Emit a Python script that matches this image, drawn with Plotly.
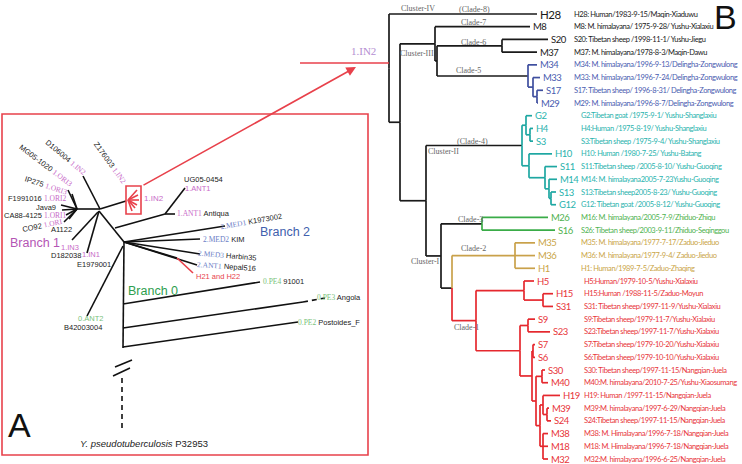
import plotly.graph_objects as go

W, H = 742, 464

# ================= Panel B data =================
leaf_names = ["H28", "M8", "S20", "M37", "M34", "M33", "S17", "M29", "G2", "H4", "S3", "H10",
              "S11", "M14", "S13", "G12", "M26", "S16", "M35", "M36", "H1", "H5", "H15", "S31",
              "S9", "S23", "S7", "S6", "S30", "M40", "H19", "M39", "S24", "M38", "M18", "M32"]
leaf_tips = [537, 530, 548, 537, 537, 540, 543, 538, 532, 533, 533, 552,
             557, 557, 556, 556, 548, 555, 535, 535, 535, 534, 553, 553,
             535, 550, 535, 535, 545, 548, 560, 549, 551, 548, 548, 548]
leaf_desc = [
    "H28: Human/1983-9-15/Maqin-Xiaduwu",
    "M8: M. himalayana/ 1975-9-28/ Yushu-Xialaxiu",
    "S20: Tibetan sheep /1998-11-1/ Yushu-Jiegu",
    "M37: M. himalayana/1978-8-3/Maqin-Dawu",
    "M34: M. himalayana/1996-9-13/Delingha-Zongwulong",
    "M33: M. himalayana/1996-7-24/Delingha-Zongwulong",
    "S17: Tibetan sheep/ 1996-8-31/ Delingha-Zongwulong",
    "M29: M. himalayana/1996-8-7/Delingha-Zongwulong",
    "G2:Tibetan goat /1975-9-1/ Yushu-Shanglaxiu",
    "H4:Human /1975-8-19/ Yushu-Shanglaxiu",
    "S3:Tibetan sheep /1975-9-4/ Yushu-Shanglaxiu",
    "H10: Human /1980-7-25/ Yushu-Batang",
    "S11:Tibetan sheep /2005-8-10/ Yushu-Guoqing",
    "M14: M. himalayana2005-7-23Yushu-Guoqing",
    "S13:Tibetan sheep2005-8-23/ Yushu-Guoqing",
    "G12: Tibetan goat /2005-8-12/ Yushu-Guoqing",
    "M16: M. himalayana/2005-7-9/Zhiduo-Zhiqu",
    "S26: Tibetan sheep/2003-9-11/Zhiduo-Seqinggou",
    "M35: M. himalayana/1977-7-17/Zaduo-Jieduo",
    "M36: M. himalayana/1977-9-4/ Zaduo-Jieduo",
    "H1: Human/1989-7-5/Zaduo-Zhaqing",
    "H5:Human/1979-10-5/Yushu-Xialaxiu",
    "H15:Human /1988-11-5/Zaduo-Moyun",
    "S31: Tibetan sheep/1997-11-9/Yushu-Xialaxiu",
    "S9:Tibetan sheep/1979-11-7/Yushu-Xialaxiu",
    "S23:Tibetan sheep/1997-11-7/Yushu-Xialaxiu",
    "S7:Tibetan sheep/1979-10-20/Yushu-Xialaxiu",
    "S6:Tibetan sheep/1979-10-10/Yushu-Xialaxiu",
    "S30: Tibetan sheep/1997-11-15/Nangqian-Juela",
    "M40:M. himalayana/2010-7-25/Yushu-Xiaosumang",
    "H19: Human /1997-11-15/Nangqian-Juela",
    "M39:M. himalayana/1997-6-29/Nangqian-Juela",
    "S24:Tibetan sheep/1997-11-15/Nangqian-Juela",
    "M38: M. Himalayana/1996-7-18/Nangqian-Juela",
    "M18: M. Himalayana/1996-7-18/Nangqian-Juela",
    "M32:M. himalayana/1996-6-25/Nangqian-Juela",
]

line_colors = {"k": "#1a1a1a", "blue": "#3f4f9f", "teal": "#1ea7a2", "green": "#3aac48",
               "gold": "#c9a14a", "red": "#e5282e"}
text_colors = {"k": "#1a1a1a", "blue": "#4a5cb0", "teal": "#2ab3ae", "green": "#4fb24f",
               "gold": "#caa548", "red": "#e8353a"}
# style: start of the description column per clade colour
desc_start = {"k": 572, "blue": 572, "teal": 579, "green": 579, "gold": 579, "red": 582}


# node = (depth_x, color, stem_color, children); leaf = name
def N(x, c, *kids, stem=None):
    return (x, c, stem, list(kids))


clade5 = N(528, "blue", "M34", N(533, "blue", "M33", N(537, "blue", "S17", "M29")), stem="k")
cluster3 = N(435, "k", "M8", N(437, "k", N(502, "k", "S20", "M37"), clade5))
clade4 = N(522, "teal",
           N(526, "teal", "G2", N(530, "teal", "H4", "S3")),
           N(529, "teal", "H10", N(545, "teal", "S11", N(549, "teal", "M14", N(551, "teal", "S13", "G12")))),
           stem="k")
clade3 = N(482, "green", "M26", "S16", stem="k")
clade2 = N(515, "gold", "M35", "M36", "H1")
red_low = N(540, "red", N(543, "red", "H19", N(547, "red", "M39", "S24")), N(543, "red", "M38", "M18", "M32"))
red_mid = N(536, "red", N(542, "red", "S30", "M40"), red_low)
red_b = N(520, "red", N(528, "red", "S9", "S23"), N(532, "red", N(533, "red", "S7", "S6"), red_mid))
clade1 = N(476, "red", N(524, "red", "H5", N(543, "red", "H15", "S31")), red_b)
cluster1 = N(441, "k", clade3, N(452, "k", clade2, clade1))
tree_b = N(389, "k", "H28", N(400, "k", cluster3, N(426, "k", clade4, cluster1)))

clade_labels = ["Cluster-IV", "(Clade-8)", "Clade-7", "Clade-6", "Cluster-III", "Clade-5",
                "(Clade-4)", "Cluster-II", "Clade-3", "Clade-2", "Cluster-I", "Clade-1"]
clade_lx = [418, 474, 473, 473, 417, 468, 472, 443, 470, 473, 425, 466]
clade_ly = [8, 9, 22, 42, 53, 70, 141, 151, 219, 248, 261, 327]

# ================= Panel A data =================
a_black = [
    ((77, 209), (68, 190)), ((77, 209), (72, 194)), ((77, 209), (61, 205)), ((77, 209), (62, 210)),
    ((77, 209), (66, 215)), ((77, 209), (69, 219)), ((77, 209), (64, 222)),
    ((77, 209), (100, 209)), ((100, 209), (126, 201)), ((100, 209), (83, 176)),
    ((99, 211), (87, 253)), ((98, 212), (72, 240)), ((99, 211), (124, 242)),
    ((115, 228), (165, 214)), ((165, 214), (185, 188)), ((165, 214), (175, 214)),
    ((124, 242), (225, 226)), ((124, 242), (200, 239)), ((124, 242), (200, 254)),
    ((124, 242), (197, 265)), ((124, 242), (177, 258)),
    ((124, 242), (123, 348)), ((123, 246), (87, 316)),
    ((123, 304), (260, 282)), ((123, 328), (303, 302)), ((123, 347), (298, 322)),
    ((115, 367), (132, 360)), ((113, 376), (130, 368)),
]
a_dashed = [((122, 378), (122, 432)), ((303, 302), (325, 298))]
a_red = [((177, 258), (193, 273)),
         ((128, 200), (137, 190)), ((128, 200), (138, 195)), ((128, 200), (139, 200)),
         ((128, 200), (137, 205)), ((128, 200), (135, 208)), ((128, 200), (132, 211))]

PINK = "#c86ac8"
BLUEL = "#6a7ec6"
GREENL = "#78c27a"
SERIF = "Liberation Serif"
SANS = "Liberation Sans, Arial"


def lbl(black, tag, col, tag_first=False):
    t = f"<span style='color:{col};font-family:{SERIF}'>{tag}</span>"
    return (t + " " + black) if tag_first else (black + " " + t)


def tight(t, ls):
    return f"<span style='letter-spacing:{ls}px'>{t}</span>"


# (text, x, y, angle, anchor, size, color)
a_texts = [
    (lbl("D106004", "1.IN2", PINK), 66, 157, 40, "center", 7.5, "#222"),
    (lbl("MG05-1020", "1.ORI3", PINK), 46, 165, 37, "center", 7.5, "#222"),
    (lbl("IP275", "1.ORI3", PINK), 46, 185, 18, "center", 7.5, "#222"),
    (lbl("Z176003", "1.IN2", PINK), 110, 162, 54, "center", 7.5, "#222"),
    (lbl("F1991016", "1.ORI2", PINK), 7, 198, 0, "left", 7.5, "#222"),
    ("Java9", 35, 207, 0, "left", 7.5, "#222"),
    (lbl("CA88-4125", "1.ORI1", PINK), 3, 215, 0, "left", 7.5, "#222"),
    (lbl("CO92", "1.ORI", PINK), 42, 225, -12, "center", 7.5, "#222"),
    ("A1122", 50, 229, 0, "left", 7.5, "#222"),
    ("1.IN3", 70, 247, 0, "center", 7.5, PINK),
    ("D182038", 66, 255, 0, "center", 7.5, "#222"),
    ("1.IN1", 91, 254, 0, "center", 7.5, PINK),
    ("E1979001", 94, 264, 0, "center", 7.5, "#222"),
    ("UG05-0454", 183, 179, 0, "left", 7.5, "#222"),
    ("1.ANT1", 184, 188, 0, "left", 7.5, PINK),
    ("1.IN2", 143, 198, 0, "left", 8, PINK),
    (lbl("Antiqua", "1.ANT1", PINK, True), 176, 213, 0, "left", 7.5, "#222"),
    (lbl("K1973002", "2.MED1", BLUEL, True), 251, 221, -10, "center", 7.5, "#222"),
    (lbl("KIM", "2.MED2", BLUEL, True), 202, 239, 0, "left", 7.5, "#222"),
    (lbl("Harbin35", "2.MED3", BLUEL, True), 227, 255, 5, "center", 7.5, "#222"),
    (lbl("Nepal516", "2.ANT1", BLUEL, True), 226, 266, 4, "center", 7.5, "#222"),
    ("H21 and H22", 195, 276, 0, "left", 7.5, "#e8414b"),
    (lbl("91001", "0.PE4", GREENL, True), 262, 281, 0, "left", 7.5, "#222"),
    (lbl("Angola", "0.PE3", GREENL, True), 316, 297, 0, "left", 7.5, "#222"),
    (lbl("Postoides_F", "0.PE2", GREENL, True), 297, 322, 0, "left", 7.5, "#222"),
    ("0.ANT2", 90, 318, 0, "center", 7.5, GREENL),
    ("B42003004", 83, 327, 0, "center", 7.5, "#222"),
    ("Branch 1", 9, 243, 0, "left", 12.5, "#b455b4"),
    ("Branch 2", 259, 232, 0, "left", 12.5, "#4160ad"),
    ("Branch 0", 127, 291, 0, "left", 12.5, "#2e9e4e"),
    ("<i>Y. pseudotuberculosis</i> P32953", 144, 443, 0, "center", 9.5, "#222"),
    ("A", 7, 425, 0, "left", 34, "#111"),
    ("B", 725, 17, 0, "center", 34, "#111"),
]

RED = "#e8414b"

# ================= Build figure =================
fig = go.Figure()

segs = {}
leaf_color = {}


def add_seg(c, x0, y0, x1, y1):
    xs, ys = segs.setdefault(c, ([], []))
    xs += [x0, x1, None]
    ys += [y0, y1, None]


def draw(node, pcol):
    if isinstance(node, str):
        i = leaf_names.index(node)
        leaf_color[node] = pcol
        return leaf_tips[i], i, pcol
    x, c, stem, kids = node
    info = [draw(k, c) for k in kids]
    ys_ = [v[1] for v in info]
    y = (min(ys_) + max(ys_)) / 2
    for cx, cy, cs in info:
        add_seg(cs, x, cy, cx, cy)
        add_seg(cs, x, y, x, cy)
    return x, y, (stem or c)


draw(tree_b, "k")

for c, (xs, ys) in segs.items():
    fig.add_trace(go.Scatter(x=xs, y=ys, mode="lines", yaxis="y2",
                             line=dict(color=line_colors[c], width=1.7),
                             hoverinfo="skip", showlegend=False))


def seg_trace(seglist, color, width, dash=None):
    xs, ys = [], []
    for (a, b) in seglist:
        xs += [a[0], b[0], None]
        ys += [a[1], b[1], None]
    fig.add_trace(go.Scatter(x=xs, y=ys, mode="lines",
                             line=dict(color=color, width=width, dash=dash),
                             hoverinfo="skip", showlegend=False))


seg_trace(a_black, "#111111", 1.6)
seg_trace(a_dashed, "#111111", 1.6, dash="5px,4px")
seg_trace(a_red, RED, 1.6)

shapes = [
    dict(type="rect", x0=2, y0=114, x1=368, y1=455, line=dict(color=RED, width=1.6)),
    dict(type="rect", x0=126, y0=186, x1=141, y1=214, line=dict(color=RED, width=1.6)),
    dict(type="line", x0=300, y0=63, x1=389, y1=63, line=dict(color=RED, width=1.6)),
]

annotations = []
annotations.append(dict(x=356, y=67, ax=142, ay=186, xref="x", yref="y", axref="x", ayref="y",
                        showarrow=True, arrowhead=2, arrowsize=1.2, arrowwidth=1.6,
                        arrowcolor=RED, text=""))
annotations.append(dict(x=363, y=51, text="1.IN2", showarrow=False, xref="x", yref="y",
                        font=dict(family=SERIF, size=11, color="#b48ed2")))

for (t, x, y, ang, anc, sz, col) in a_texts:
    annotations.append(dict(x=x, y=y, text=t, showarrow=False, xref="x", yref="y",
                            xanchor=anc, yanchor="middle", textangle=ang, borderpad=0,
                            font=dict(family=SANS, size=sz, color=col)))

LAB = "Lato, Liberation Sans"
for i, name in enumerate(leaf_names):
    c = leaf_color[name]
    annotations.append(dict(x=leaf_tips[i] + 1, y=i, text=tight(name, -0.5), showarrow=False,
                            xref="x", yref="y2", xanchor="left", yanchor="middle",
                            font=dict(family=LAB, size=11.5 if name == "H28" else 9.5,
                                      color=text_colors[c])))
    annotations.append(dict(x=desc_start[c], y=i, text=tight(leaf_desc[i], -0.4), showarrow=False,
                            xref="x", yref="y2", xanchor="left", yanchor="middle",
                            font=dict(family=LAB, size=7.5, color=text_colors[c])))

for t, x, y in zip(clade_labels, clade_lx, clade_ly):
    annotations.append(dict(x=x, y=y, text=t, showarrow=False, xref="x", yref="y",
                            xanchor="center", yanchor="middle",
                            font=dict(family=SERIF, size=8, color="#666666")))

top_px, bot_px = 14, 459
step = (bot_px - top_px) / (len(leaf_names) - 1)

fig.update_layout(
    width=W, height=H, margin=dict(l=0, r=0, t=0, b=0),
    paper_bgcolor="white", plot_bgcolor="white",
    xaxis=dict(range=[0, W], visible=False, fixedrange=True),
    yaxis=dict(range=[H, 0], visible=False, fixedrange=True),
    yaxis2=dict(range=[(H - top_px) / step, -top_px / step], overlaying="y",
                visible=False, fixedrange=True),
    shapes=shapes, annotations=annotations, showlegend=False,
)

fig.write_html("out.html", config={"displayModeBar": False},
               post_script="document.body.style.margin='0';document.body.style.overflow='hidden';")
